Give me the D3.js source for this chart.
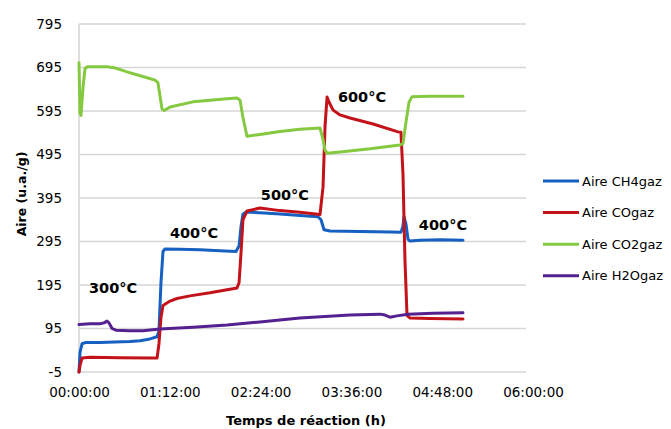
<!DOCTYPE html>
<html>
<head>
<meta charset="utf-8">
<script src="https://cdn.jsdelivr.net/npm/d3@7"></script>
<style>
  html, body { margin: 0; padding: 0; background: #fff; }
  svg { display: block; }
  text { font-family: "DejaVu Sans", sans-serif; fill: #000; }
</style>
</head>
<body>
<svg id="chart" width="671" height="429"></svg>
<script>
// Reaction time in minutes, peak areas in u.a./g
const ch4Time  = [0, 0.8, 2.4, 5.6, 16.7, 28.5, 40.4, 48.4, 56.3, 61.9, 63.4, 65.0, 66.6, 68.2, 80.1, 95.9, 111.8, 124.5, 126.9, 128.5, 130.0, 132.4, 143.5, 159.4, 175.2, 189.5, 191.9, 194.3, 199.0, 222.8, 246.6, 255.3, 256.9, 257.7, 259.3, 260.9, 262.5, 270.4, 286.3, 304.5];
const ch4Value = [-5, 40, 60, 63, 63, 64, 65, 67, 71, 76, 90, 200, 272, 278, 277, 276, 274, 272, 285, 330, 358, 363, 361, 358, 355, 352, 345, 322, 319, 318, 317, 316, 330, 352, 335, 300, 296, 298, 299, 298];

const coTime  = [0, 0.8, 2.4, 8.7, 32.5, 56.3, 61.9, 63.4, 65.0, 66.6, 72.2, 77.7, 88.0, 103.9, 125.3, 126.9, 128.5, 130.0, 133.2, 143.5, 159.4, 175.2, 191.1, 193.5, 195.1, 196.7, 198.3, 201.5, 207.0, 214.9, 233.2, 253.0, 255.3, 256.9, 258.5, 260.1, 262.5, 278.3, 304.5];
const coValue = [-5, 10, 27, 29, 28, 27, 27, 60, 120, 148, 158, 164, 170, 177, 188, 200, 270, 345, 365, 372, 366, 362, 357, 420, 560, 627, 615, 597, 586, 579, 565, 547, 546, 450, 250, 125, 119, 118, 117];

const co2Time  = [0, 0.8, 1.6, 3.2, 4.8, 7.1, 22.2, 28.5, 38.1, 54.7, 60.3, 62.6, 64.2, 65.8, 67.4, 72.2, 90.4, 117.4, 125.3, 127.7, 130.0, 133.2, 143.5, 159.4, 175.2, 191.1, 193.5, 195.1, 196.7, 207.0, 230.8, 254.5, 256.9, 259.3, 261.7, 264.1, 278.3, 304.5];
const co2Value = [706, 590, 585, 650, 693, 697, 697, 694, 685, 671, 666, 660, 630, 600, 596, 604, 616, 623, 625, 620, 580, 537, 541, 548, 553, 556, 530, 505, 498, 501, 508, 517, 520, 570, 615, 628, 629, 629];

const h2oTime  = [0, 8.7, 16.7, 19.8, 22.2, 23.8, 26.2, 29.3, 40.4, 50.7, 64.2, 90.4, 117.4, 143.5, 175.2, 214.9, 238.7, 242.6, 246.6, 252.2, 260.9, 280.7, 304.5];
const h2oValue = [104, 106, 106, 108, 112, 108, 95, 91, 90, 90, 94, 98, 103, 110, 119, 126, 128, 126, 121, 124, 128, 130, 131];

const seriesNames = ["Aire CH4gaz", "Aire COgaz", "Aire CO2gaz", "Aire H2Ogaz"];
const seriesColors = ["#1560c0", "#c3121a", "#84c940", "#55208f"];

const yTicks = [-5, 95, 195, 295, 395, 495, 595, 695, 795];
const xTicks = [0, 72, 144, 216, 288, 360];
const xTickLabels = ["00:00:00", "01:12:00", "02:24:00", "03:36:00", "04:48:00", "06:00:00"];

// Temperature steps written on the curves: label, time (min), area
const stepLabels = ["300°C", "400°C", "500°C", "600°C", "400°C"];
const stepTime   = [27.0, 91.2, 163.3, 224.4, 288.6];
const stepValue  = [188, 315, 402, 627, 333];

const series = [
  { t: ch4Time, v: ch4Value },
  { t: coTime,  v: coValue },
  { t: co2Time, v: co2Value },
  { t: h2oTime, v: h2oValue }
];

const svg = d3.select("#chart");
const plotLeft = 79, plotRight = 526, plotTop = 24, plotBottom = 372;

const x = d3.scaleLinear().domain([0, 360]).range([plotLeft, 533]);
const y = d3.scaleLinear().domain([-5, 795]).range([plotBottom, plotTop]);

// horizontal gridlines
svg.append("g")
  .selectAll("line")
  .data(yTicks)
  .join("line")
  .attr("x1", plotLeft)
  .attr("x2", plotRight)
  .attr("y1", d => y(d))
  .attr("y2", d => y(d))
  .attr("stroke", "#d6d6d6")
  .attr("stroke-width", 1.6);

// vertical axis line
svg.append("line")
  .attr("x1", plotLeft).attr("x2", plotLeft)
  .attr("y1", plotTop).attr("y2", plotBottom)
  .attr("stroke", "#d6d6d6")
  .attr("stroke-width", 1.6);

// y axis labels (plain hyphen for negatives)
const yAxis = svg.append("g")
  .attr("transform", `translate(${plotLeft},0)`)
  .call(d3.axisLeft(y).tickValues(yTicks).tickSize(0).tickPadding(17).tickFormat(d => String(d)));
yAxis.select(".domain").remove();
yAxis.selectAll("text")
  .style("font-family", "'DejaVu Sans', sans-serif")
  .style("font-size", "13.5px")
  .attr("fill", "#000");

// x axis labels
const xAxis = svg.append("g")
  .attr("transform", `translate(0,${plotBottom})`)
  .call(d3.axisBottom(x).tickValues(xTicks).tickSize(0).tickPadding(15)
    .tickFormat((d, i) => xTickLabels[i]));
xAxis.select(".domain").remove();
xAxis.selectAll("text")
  .style("font-family", "'DejaVu Sans', sans-serif")
  .style("font-size", "13.5px")
  .attr("fill", "#000");

// data lines
const line = d3.line()
  .x(d => x(d[0]))
  .y(d => y(d[1]));

svg.append("g")
  .selectAll("path")
  .data(series)
  .join("path")
  .attr("d", s => line(s.t.map((t, i) => [t, s.v[i]])))
  .attr("fill", "none")
  .attr("stroke", (s, i) => seriesColors[i])
  .attr("stroke-width", 3)
  .attr("stroke-linejoin", "round")
  .attr("stroke-linecap", "round");

// temperature annotations
svg.append("g")
  .selectAll("text")
  .data(stepLabels)
  .join("text")
  .attr("x", (d, i) => x(stepTime[i]))
  .attr("y", (d, i) => y(stepValue[i]))
  .attr("text-anchor", "middle")
  .attr("dominant-baseline", "central")
  .style("font-size", "14.5px")
  .style("font-weight", "bold")
  .text(d => d);

// axis titles
svg.append("text")
  .attr("x", 306)
  .attr("y", 420)
  .attr("text-anchor", "middle")
  .attr("dominant-baseline", "central")
  .style("font-size", "13px")
  .style("font-weight", "bold")
  .text("Temps de réaction (h)");

svg.append("text")
  .attr("transform", "translate(21,194) rotate(-90)")
  .attr("text-anchor", "middle")
  .attr("dominant-baseline", "central")
  .style("font-size", "12.5px")
  .style("font-weight", "bold")
  .text("Aire (u.a./g)");

// legend
const legend = svg.append("g")
  .selectAll("g")
  .data(seriesNames)
  .join("g")
  .attr("transform", (d, i) => `translate(543,${181 + i * 31.6})`);

legend.append("line")
  .attr("x1", 0).attr("x2", 36)
  .attr("y1", 0).attr("y2", 0)
  .attr("stroke", (d, i) => seriesColors[i])
  .attr("stroke-width", 3);

legend.append("text")
  .attr("x", 39)
  .attr("y", 0)
  .attr("dominant-baseline", "central")
  .style("font-size", "13px")
  .text(d => d);
</script>
</body>
</html>
